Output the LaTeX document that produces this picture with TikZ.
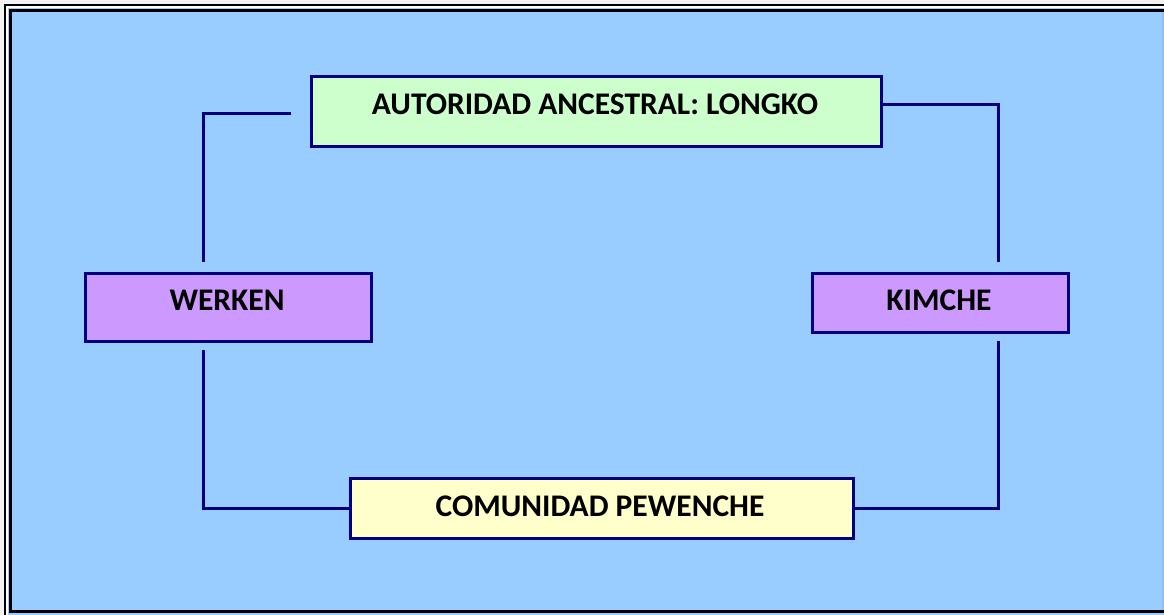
\documentclass[tikz,border=0pt]{standalone}
\usepackage{fontspec}
\setmainfont{Carlito}
\definecolor{bgblue}{HTML}{99CCFF}
\definecolor{navy}{HTML}{000080}
\definecolor{boxgreen}{HTML}{CCFFCC}
\definecolor{boxviolet}{HTML}{CC99FF}
\definecolor{boxyellow}{HTML}{FFFFCC}
\begin{document}
\begin{tikzpicture}[x=1pt,y=-1pt,
  box/.style={draw=navy,line width=3pt,inner sep=0pt},
  lbl/.style={font=\bfseries\fontsize{31.5}{32}\selectfont,anchor=base,inner sep=0pt},
  conn/.style={draw=navy,line width=3pt}]
\useasboundingbox (0,0) rectangle (1164,615);
% frame
\fill[white!90!gray] (0,0) rectangle (1164,615);
\fill[bgblue] (5,5) rectangle (1164,615);
\fill[white] (6,6) rectangle (1164,8);
\fill[white] (6,6) rectangle (8,615);
\draw[black,line width=2pt] (5,615) -- (5,5) -- (1164,5);
\fill[bgblue] (10.5,10.5) rectangle (1164,611);
\draw[black,line width=3pt] (1164,10.5) -- (10.5,10.5) -- (10.5,611) -- (1164,611);
\fill[bgblue!80!gray] (1162,12) rectangle (1164,609.5);
% boxes
\node[box,fill=boxgreen,minimum width=570pt,minimum height=70pt,anchor=north west] (longko) at (310,75) {};
\node[lbl] (longkot) at (595,115) {AUTORIDAD ANCESTRAL: LONGKO};
\node[box,fill=boxviolet,minimum width=286pt,minimum height=68pt,anchor=north west] (werken) at (84,272) {};
\node[lbl] (werkent) at (227,310) {WERKEN};
\node[box,fill=boxviolet,minimum width=256pt,minimum height=59pt,anchor=north west] (kimche) at (811,272) {};
\node[lbl] (kimchet) at (939,310) {KIMCHE};
\node[box,fill=boxyellow,minimum width=503pt,minimum height=60pt,anchor=north west] (comunidad) at (349,477) {};
\node[lbl] (comunidadt) at (600,516) {COMUNIDAD PEWENCHE};
% connectors
\coordinate (a1) at (291,114);
\coordinate (a2) at (203,262);
\draw[conn] (a1) -- (203,114) -- (a2);
\coordinate (b1) at (203,350);
\draw[conn] (b1) |- (comunidad.west);
\coordinate (c1) at (998,341);
\draw[conn] (comunidad.east) -| (c1);
\coordinate (d1) at (998,262);
\draw[conn] (d1) |- (longko.east |- 0,105);
\end{tikzpicture}
\end{document}
